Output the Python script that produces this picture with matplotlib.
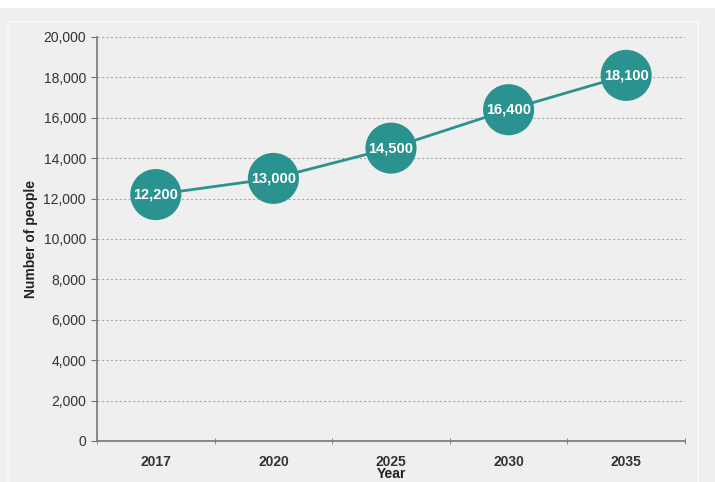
import matplotlib.pyplot as plt
from matplotlib.patches import Rectangle

plt.rcParams['font.family'] = ['Liberation Sans', 'DejaVu Sans']

years = ['2017', '2020', '2025', '2030', '2035']
people = [12200, 13000, 14500, 16400, 18100]
y_ticks = [0, 2000, 4000, 6000, 8000, 10000, 12000, 14000, 16000, 18000, 20000]

teal = '#2a938f'
text_grey = '#333333'

fig = plt.figure(figsize=(7.15, 4.82), dpi=100, facecolor='#efefef')

# white strip at top and faint frame around the chart area
fig.patches.append(Rectangle((0, 482 - 8), 715, 8, transform=None,
                             facecolor='white', edgecolor='none', zorder=0))
fig.patches.append(Rectangle((8, -5), 690, 482 - 22 + 5, transform=None,
                             facecolor='none', edgecolor='#f8f8f8', lw=1.2, zorder=0))

ax = fig.add_axes([97 / 715, 41 / 482, (685 - 97) / 715, (441 - 37) / 482])
ax.set_facecolor('#efefef')

x = list(range(len(years)))
ax.plot(x, people, color=teal, lw=2.0, zorder=2)
ax.scatter(x, people, s=51 ** 2 * 0.52, color=teal, zorder=3, edgecolors='none')
for xi, v in zip(x, people):
    ax.text(xi, v, f'{v:,}', color='white', fontsize=10.5, fontweight='bold',
            ha='center', va='center', zorder=4)

ax.set_xlim(-0.5, len(years) - 0.5)
ax.set_ylim(0, 20000)
ax.set_yticks(y_ticks)
ax.set_yticklabels([f'{t:,}' for t in y_ticks])
ax.set_xticks(x)
ax.set_xticklabels(years)
ax.set_xticks([i - 0.5 for i in range(len(years) + 1)], minor=True)
ax.tick_params(axis='x', which='major', length=0, pad=10)
ax.tick_params(axis='x', which='minor', length=4, direction='inout', color='#777777')
ax.tick_params(axis='y', length=4, color='#777777', pad=4)
for lab in ax.get_xticklabels() + ax.get_yticklabels():
    lab.set_fontsize(10)
    lab.set_color(text_grey)
for lab in ax.get_xticklabels():
    lab.set_fontweight('bold')

ax.grid(axis='y', color='#aaaaaa', ls=(0, (2, 2)), lw=0.8)
ax.set_axisbelow(True)
for s in ['top', 'right']:
    ax.spines[s].set_visible(False)
for s in ['left', 'bottom']:
    ax.spines[s].set_color('#777777')
    ax.spines[s].set_linewidth(1.2)

ax.set_ylabel('Number of people', fontsize=10, fontweight='bold', color='#222222', labelpad=4)
ax.set_xlabel('Year', fontsize=10, fontweight='bold', color='#222222', labelpad=-1)

fig.savefig('out.png', dpi=100, facecolor=fig.get_facecolor())
